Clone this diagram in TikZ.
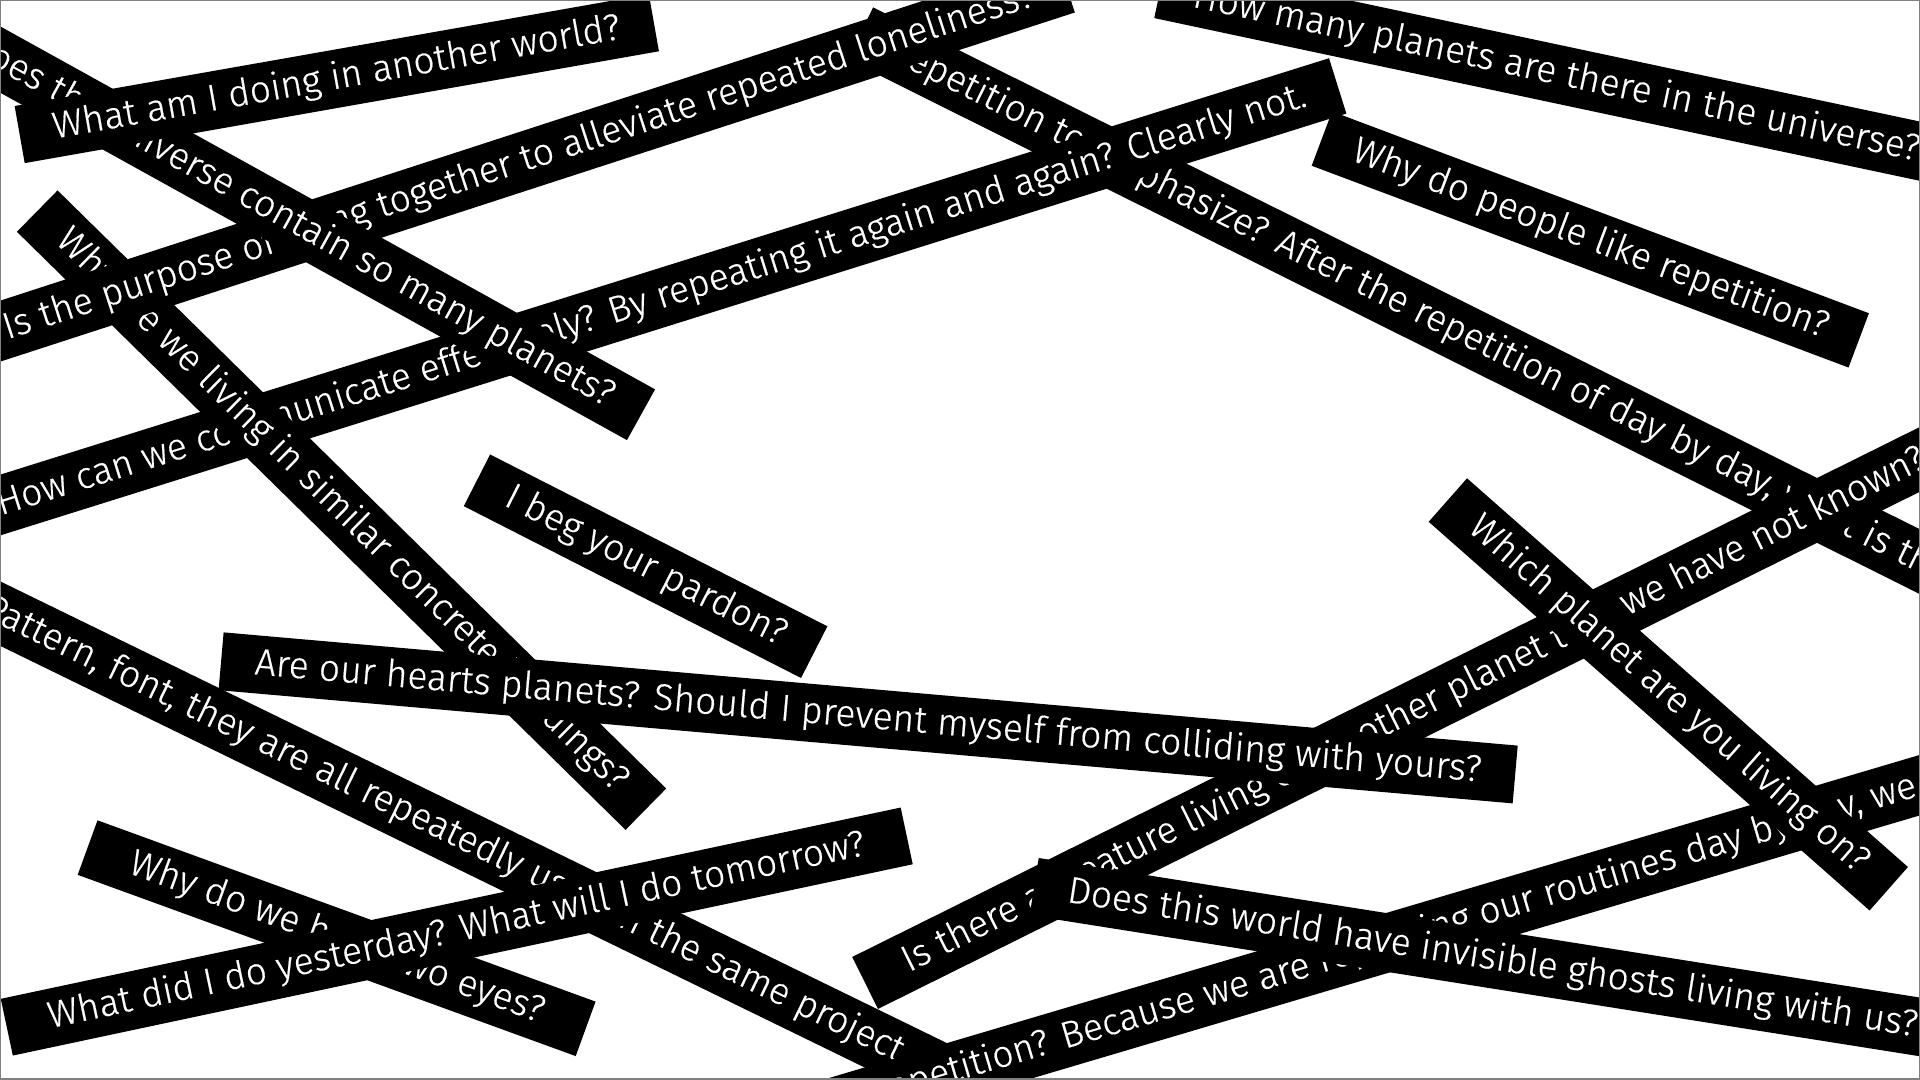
\documentclass[tikz,border=0pt]{standalone}
\usepackage{fontspec}
\setmainfont{Fira Sans}[UprightFont={* Light},FakeBold=0.5]

\begin{document}
\begin{tikzpicture}[x=0.12245mm,y=-0.12245mm,
  strip/.style={fill=black,text=white,inner xsep=3.4mm,inner ysep=0pt,
    minimum height=5.8mm,text height=2.7mm,text depth=0.7mm,
    font=\fontsize{10.6}{12}\selectfont}]
  \useasboundingbox (0,0) rectangle (1568,882);
  \clip (0,0) rectangle (1568,882);

  % lower layer
  \node[strip,anchor=west,rotate=-26.5] (emphasize) at (702,27)
    {Repetition to emphasize? After the repetition of day by day, what is the meaning of it?};
  \node[strip,anchor=east,rotate=17.4] (communicate) at (1093,70)
    {How can we communicate effectively? By repeating it again and again? Clearly not.};
  \node[strip,anchor=west,rotate=-44.5] (buildings) at (30,172)
    {Why are we living in similar concrete buildings?};
  \node[strip,anchor=east,rotate=18] (loneliness) at (871,-12.5)
    {Is the purpose of living together to alleviate repeated loneliness?};
  \node[strip,anchor=east,rotate=-29] (universe) at (524,339)
    {Does the universe contain so many planets?};
  \node[strip,anchor=west,rotate=10] (world) at (15.5,110)
    {What am I doing in another world?};
  \node[strip,anchor=west,rotate=-12] (howmany) at (947,-8.5)
    {How many planets are there in the universe?};
  \node[strip,anchor=west,rotate=-20.6] (people) at (1079,113)
    {Why do people like repetition?};
  \node[strip,anchor=west,rotate=-27] (pardon) at (389,392)
    {I beg your pardon?};

  % lower left
  \node[strip,anchor=west,rotate=-26] (pattern) at (-37,483)
    {Pattern, font, they are all repeatedly used in the same project, why?};
  \node[strip,anchor=west,rotate=-20,minimum width=53mm] (eyes) at (71,692)
    {Why do we have two eyes?};
  \node[strip,anchor=west,rotate=12,minimum width=92mm] (yesterday) at (5,839)
    {What did I do yesterday? What will I do tomorrow?};

  % lower right
  \node[strip,anchor=west,rotate=16.5] (routines) at (468,967)
    {Why do we need repetition? Because we are repeating our routines day by day, we are used to it.};
  \node[strip,anchor=west,rotate=26.4,inner xsep=4.4mm] (creature) at (706,803)
    {Is there a creature living on another planet that we have not known?};
  \node[strip,anchor=west,rotate=-5] (hearts) at (180,540)
    {Are our hearts planets? Should I prevent myself from colliding with yours?};
  \node[strip,anchor=west,rotate=-41.4] (which) at (1182,408)
    {Which planet are you living on?};
  \node[strip,anchor=west,rotate=-9] (ghosts) at (844,724)
    {Does this world have invisible ghosts living with us?};

  \draw[gray,line width=0.3mm] (0,0) rectangle (1568,882);
\end{tikzpicture}
\end{document}
